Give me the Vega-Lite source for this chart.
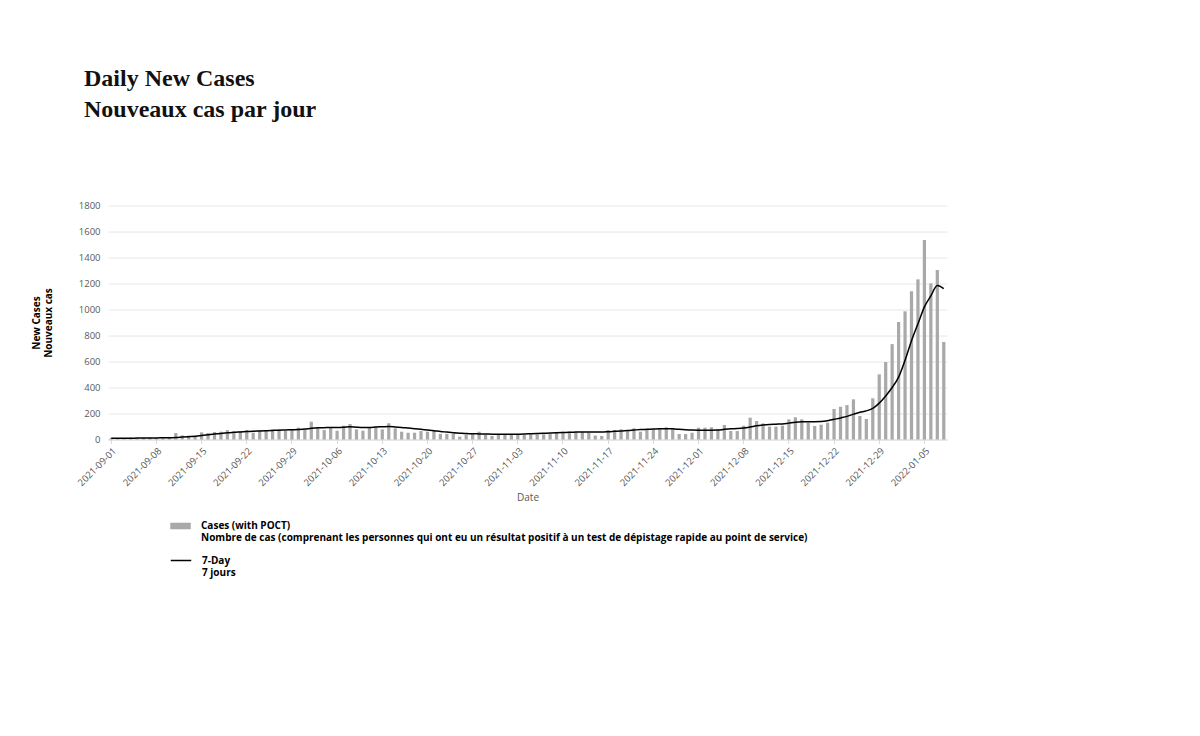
{
  "$schema": "https://vega.github.io/schema/vega-lite/v6.json",
  "width": 839,
  "height": 234,
  "autosize": {"type": "none"},
  "padding": {"left": 108, "top": 205.5, "right": 253, "bottom": 296.5},
  "background": "white",
  "config": {
    "view": {"stroke": null},
    "font": "Open Sans",
    "axisY": {
      "labelOverlap": false,
      "gridColor": "#e6e6e6"
    }
  },
  "title": {
    "text": ["Daily New Cases", "Nouveaux cas par jour"],
    "anchor": "start",
    "frame": "group",
    "font": "Liberation Serif",
    "fontSize": 24,
    "fontWeight": "bold",
    "color": "#111111",
    "lineHeight": 31,
    "dx": -24,
    "offset": 79
  },
  "data": {
    "values": [
      {"date": "2021-09-01", "cases": 12, "avg": 10},
      {"date": "2021-09-02", "cases": 9, "avg": 10},
      {"date": "2021-09-03", "cases": 11, "avg": 10},
      {"date": "2021-09-04", "cases": 14, "avg": 10},
      {"date": "2021-09-05", "cases": 10, "avg": 11},
      {"date": "2021-09-06", "cases": 12, "avg": 11},
      {"date": "2021-09-07", "cases": 15, "avg": 12},
      {"date": "2021-09-08", "cases": 11, "avg": 12},
      {"date": "2021-09-09", "cases": 16, "avg": 13},
      {"date": "2021-09-10", "cases": 19, "avg": 14},
      {"date": "2021-09-11", "cases": 50, "avg": 16},
      {"date": "2021-09-12", "cases": 32, "avg": 19},
      {"date": "2021-09-13", "cases": 30, "avg": 22},
      {"date": "2021-09-14", "cases": 26, "avg": 25},
      {"date": "2021-09-15", "cases": 55, "avg": 30},
      {"date": "2021-09-16", "cases": 50, "avg": 36},
      {"date": "2021-09-17", "cases": 58, "avg": 42},
      {"date": "2021-09-18", "cases": 60, "avg": 47},
      {"date": "2021-09-19", "cases": 72, "avg": 51},
      {"date": "2021-09-20", "cases": 62, "avg": 55},
      {"date": "2021-09-21", "cases": 65, "avg": 58},
      {"date": "2021-09-22", "cases": 73, "avg": 61},
      {"date": "2021-09-23", "cases": 52, "avg": 64},
      {"date": "2021-09-24", "cases": 68, "avg": 66},
      {"date": "2021-09-25", "cases": 73, "avg": 68},
      {"date": "2021-09-26", "cases": 78, "avg": 70},
      {"date": "2021-09-27", "cases": 78, "avg": 72},
      {"date": "2021-09-28", "cases": 65, "avg": 73},
      {"date": "2021-09-29", "cases": 73, "avg": 75},
      {"date": "2021-09-30", "cases": 91, "avg": 77},
      {"date": "2021-10-01", "cases": 78, "avg": 80},
      {"date": "2021-10-02", "cases": 137, "avg": 86},
      {"date": "2021-10-03", "cases": 91, "avg": 90},
      {"date": "2021-10-04", "cases": 73, "avg": 91},
      {"date": "2021-10-05", "cases": 91, "avg": 92},
      {"date": "2021-10-06", "cases": 68, "avg": 92},
      {"date": "2021-10-07", "cases": 106, "avg": 94},
      {"date": "2021-10-08", "cases": 119, "avg": 98},
      {"date": "2021-10-09", "cases": 78, "avg": 95},
      {"date": "2021-10-10", "cases": 68, "avg": 93},
      {"date": "2021-10-11", "cases": 91, "avg": 93},
      {"date": "2021-10-12", "cases": 97, "avg": 96},
      {"date": "2021-10-13", "cases": 78, "avg": 98},
      {"date": "2021-10-14", "cases": 125, "avg": 100},
      {"date": "2021-10-15", "cases": 86, "avg": 97},
      {"date": "2021-10-16", "cases": 60, "avg": 93},
      {"date": "2021-10-17", "cases": 52, "avg": 88},
      {"date": "2021-10-18", "cases": 52, "avg": 83},
      {"date": "2021-10-19", "cases": 65, "avg": 78},
      {"date": "2021-10-20", "cases": 60, "avg": 73},
      {"date": "2021-10-21", "cases": 73, "avg": 68},
      {"date": "2021-10-22", "cases": 43, "avg": 62},
      {"date": "2021-10-23", "cases": 43, "avg": 57},
      {"date": "2021-10-24", "cases": 43, "avg": 52},
      {"date": "2021-10-25", "cases": 22, "avg": 49},
      {"date": "2021-10-26", "cases": 37, "avg": 46},
      {"date": "2021-10-27", "cases": 43, "avg": 44},
      {"date": "2021-10-28", "cases": 60, "avg": 43},
      {"date": "2021-10-29", "cases": 37, "avg": 42},
      {"date": "2021-10-30", "cases": 27, "avg": 41},
      {"date": "2021-10-31", "cases": 35, "avg": 40},
      {"date": "2021-11-01", "cases": 35, "avg": 40},
      {"date": "2021-11-02", "cases": 38, "avg": 40},
      {"date": "2021-11-03", "cases": 43, "avg": 41},
      {"date": "2021-11-04", "cases": 35, "avg": 42},
      {"date": "2021-11-05", "cases": 40, "avg": 44},
      {"date": "2021-11-06", "cases": 40, "avg": 46},
      {"date": "2021-11-07", "cases": 40, "avg": 48},
      {"date": "2021-11-08", "cases": 43, "avg": 50},
      {"date": "2021-11-09", "cases": 52, "avg": 52},
      {"date": "2021-11-10", "cases": 60, "avg": 54},
      {"date": "2021-11-11", "cases": 60, "avg": 56},
      {"date": "2021-11-12", "cases": 60, "avg": 57},
      {"date": "2021-11-13", "cases": 55, "avg": 58},
      {"date": "2021-11-14", "cases": 52, "avg": 58},
      {"date": "2021-11-15", "cases": 30, "avg": 58},
      {"date": "2021-11-16", "cases": 27, "avg": 58},
      {"date": "2021-11-17", "cases": 73, "avg": 60},
      {"date": "2021-11-18", "cases": 73, "avg": 63},
      {"date": "2021-11-19", "cases": 78, "avg": 66},
      {"date": "2021-11-20", "cases": 65, "avg": 70},
      {"date": "2021-11-21", "cases": 86, "avg": 73},
      {"date": "2021-11-22", "cases": 60, "avg": 76},
      {"date": "2021-11-23", "cases": 73, "avg": 78},
      {"date": "2021-11-24", "cases": 78, "avg": 80},
      {"date": "2021-11-25", "cases": 86, "avg": 82},
      {"date": "2021-11-26", "cases": 94, "avg": 83},
      {"date": "2021-11-27", "cases": 86, "avg": 82},
      {"date": "2021-11-28", "cases": 42, "avg": 78},
      {"date": "2021-11-29", "cases": 42, "avg": 75},
      {"date": "2021-11-30", "cases": 52, "avg": 73},
      {"date": "2021-12-01", "cases": 91, "avg": 72},
      {"date": "2021-12-02", "cases": 91, "avg": 72},
      {"date": "2021-12-03", "cases": 94, "avg": 72},
      {"date": "2021-12-04", "cases": 78, "avg": 73},
      {"date": "2021-12-05", "cases": 112, "avg": 78},
      {"date": "2021-12-06", "cases": 65, "avg": 82},
      {"date": "2021-12-07", "cases": 65, "avg": 84},
      {"date": "2021-12-08", "cases": 106, "avg": 88},
      {"date": "2021-12-09", "cases": 168, "avg": 96},
      {"date": "2021-12-10", "cases": 142, "avg": 106},
      {"date": "2021-12-11", "cases": 124, "avg": 112},
      {"date": "2021-12-12", "cases": 99, "avg": 116},
      {"date": "2021-12-13", "cases": 99, "avg": 118},
      {"date": "2021-12-14", "cases": 106, "avg": 120},
      {"date": "2021-12-15", "cases": 155, "avg": 126},
      {"date": "2021-12-16", "cases": 171, "avg": 132},
      {"date": "2021-12-17", "cases": 155, "avg": 136},
      {"date": "2021-12-18", "cases": 129, "avg": 137},
      {"date": "2021-12-19", "cases": 104, "avg": 137},
      {"date": "2021-12-20", "cases": 114, "avg": 138},
      {"date": "2021-12-21", "cases": 129, "avg": 144},
      {"date": "2021-12-22", "cases": 235, "avg": 155},
      {"date": "2021-12-23", "cases": 252, "avg": 166},
      {"date": "2021-12-24", "cases": 265, "avg": 178},
      {"date": "2021-12-25", "cases": 309, "avg": 195},
      {"date": "2021-12-26", "cases": 181, "avg": 210},
      {"date": "2021-12-27", "cases": 158, "avg": 220},
      {"date": "2021-12-28", "cases": 317, "avg": 240},
      {"date": "2021-12-29", "cases": 501, "avg": 280},
      {"date": "2021-12-30", "cases": 596, "avg": 335},
      {"date": "2021-12-31", "cases": 734, "avg": 400},
      {"date": "2022-01-01", "cases": 904, "avg": 480},
      {"date": "2022-01-02", "cases": 986, "avg": 610},
      {"date": "2022-01-03", "cases": 1140, "avg": 760},
      {"date": "2022-01-04", "cases": 1232, "avg": 890},
      {"date": "2022-01-05", "cases": 1535, "avg": 1020},
      {"date": "2022-01-06", "cases": 1201, "avg": 1105},
      {"date": "2022-01-07", "cases": 1304, "avg": 1185},
      {"date": "2022-01-08", "cases": 750, "avg": 1160}
    ]
  },
  "encoding": {
    "x": {
      "field": "date",
      "type": "ordinal",
      "sort": null,
      "scale": {"paddingInner": 0.5, "paddingOuter": 0.25},
      "axis": {
        "title": "Date",
        "titleFont": "Open Sans",
        "titleFontSize": 10,
        "titleFontWeight": "normal",
        "titleColor": "#595959",
        "titlePadding": 5,
        "values": ["2021-09-01", "2021-09-08", "2021-09-15", "2021-09-22", "2021-09-29", "2021-10-06", "2021-10-13", "2021-10-20", "2021-10-27", "2021-11-03", "2021-11-10", "2021-11-17", "2021-11-24", "2021-12-01", "2021-12-08", "2021-12-15", "2021-12-22", "2021-12-29", "2022-01-05"],
        "labelAngle": -45,
        "labelFontSize": 9.5,
        "labelColor": "#595959",
        "labelPadding": 2,
        "labelOverlap": false,
        "domainColor": "#d9d9d9",
        "tickColor": "#d9d9d9",
        "tickSize": 4,
        "grid": false
      }
    }
  },
  "layer": [
    {
      "mark": {"type": "bar"},
      "encoding": {
        "y": {
          "field": "cases",
          "type": "quantitative",
          "scale": {"domain": [0, 1800], "nice": false},
          "axis": {
            "title": ["New Cases", "Nouveaux cas"],
            "titleFont": "Open Sans",
            "titleFontSize": 10,
            "titleFontWeight": "bold",
            "titleColor": "#000000",
            "titlePadding": 25,
            "values": [0, 200, 400, 600, 800, 1000, 1200, 1400, 1600, 1800],
            "tickCount": 10,
            "format": "d",
            "labelFontSize": 9.5,
            "labelColor": "#595959",
            "labelPadding": 8,
            "labelOverlap": false,
            "domain": false,
            "ticks": false,
            "gridColor": "#e6e6e6"
          }
        },
        "fill": {
          "datum": "Cases (with POCT)",
          "scale": {"range": ["#a9a9a9"]},
          "legend": {
            "title": null,
            "orient": "none",
            "legendX": 62,
            "legendY": 310,
            "symbolType": "M-1,-0.32H1V0.32H-1Z",
            "symbolSize": 420,
            "symbolStrokeWidth": 0,
            "labelFont": "Open Sans",
            "labelFontSize": 10,
            "labelFontWeight": "bold",
            "labelColor": "#000000",
            "labelLimit": 900,
            "labelOffset": 10,
            "labelExpr": "['Cases (with POCT)', 'Nombre de cas (comprenant les personnes qui ont eu un résultat positif à un test de dépistage rapide au point de service)']"
          }
        }
      }
    },
    {
      "mark": {"type": "line", "strokeWidth": 1.5, "interpolate": "monotone"},
      "encoding": {
        "y": {
          "field": "avg",
          "type": "quantitative",
          "axis": {
            "title": ["New Cases", "Nouveaux cas"],
            "titleFont": "Open Sans",
            "titleFontSize": 10,
            "titleFontWeight": "bold",
            "titleColor": "#000000",
            "titlePadding": 25,
            "values": [0, 200, 400, 600, 800, 1000, 1200, 1400, 1600, 1800],
            "tickCount": 10,
            "format": "d",
            "labelFontSize": 9.5,
            "labelColor": "#595959",
            "labelPadding": 8,
            "labelOverlap": false,
            "domain": false,
            "ticks": false,
            "gridColor": "#e6e6e6"
          }
        },
        "stroke": {
          "datum": "7-Day",
          "scale": {"range": ["#000000"]},
          "legend": {
            "title": null,
            "orient": "none",
            "legendX": 62,
            "legendY": 344,
            "symbolType": "stroke",
            "symbolSize": 420,
            "symbolStrokeWidth": 1.5,
            "labelFont": "Open Sans",
            "labelFontSize": 10,
            "labelFontWeight": "bold",
            "labelColor": "#000000",
            "labelOffset": 10,
            "labelExpr": "['7-Day', '7 jours']"
          }
        }
      }
    }
  ]
}
